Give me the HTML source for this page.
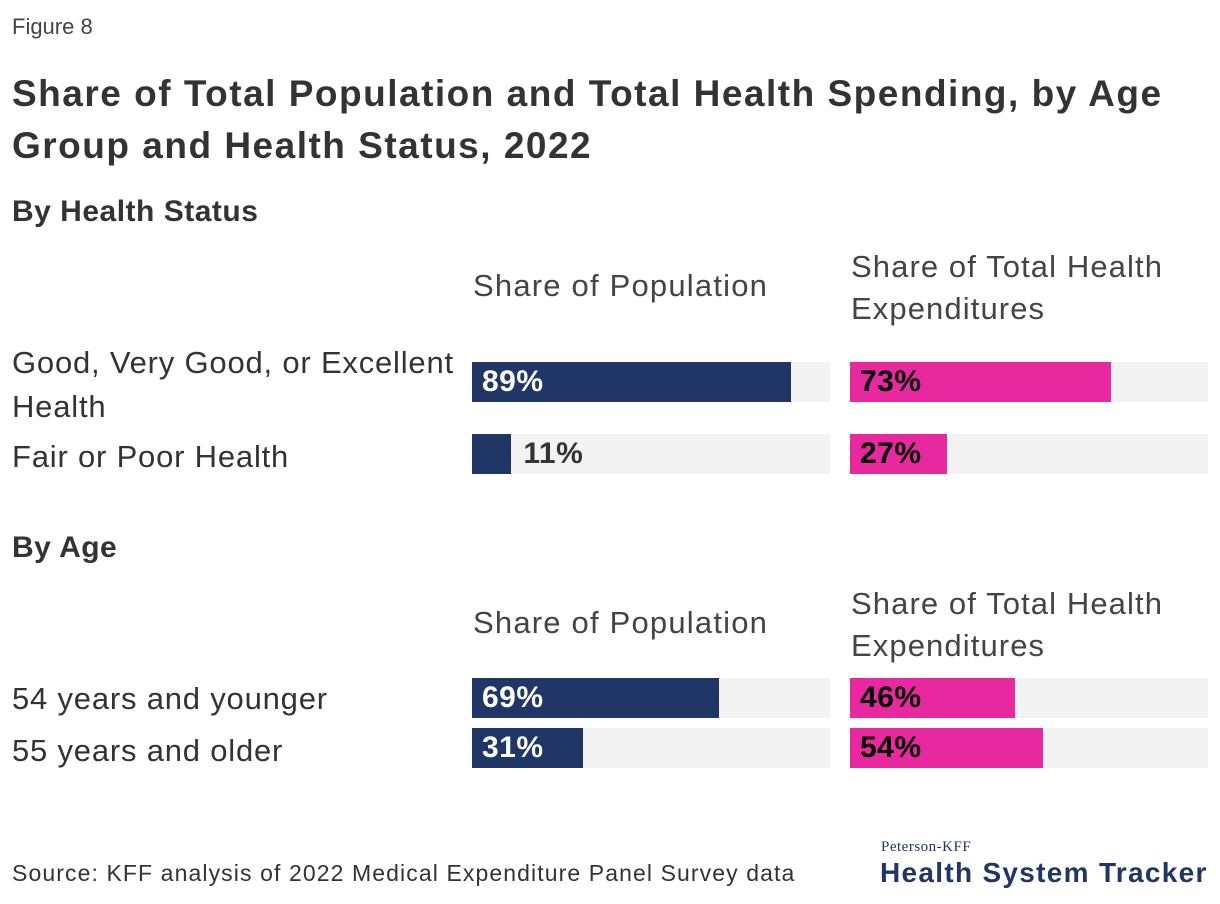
<!DOCTYPE html>
<html><head><meta charset="utf-8"><style>
body{margin:0;width:1220px;height:904px;background:#fff;font-family:"Liberation Sans",sans-serif;color:#333;position:relative;overflow:hidden}
.t{position:absolute;white-space:nowrap}
</style></head><body>
<div class="t" style="left:12px;top:14px;font-size:22px;color:#444">Figure 8</div>
<div class="t" style="left:12px;top:68px;font-size:37px;font-weight:bold;line-height:52px;color:#333;letter-spacing:1.5px">Share of Total Population and Total Health Spending, by Age<br>Group and Health Status, 2022</div>
<div class="t" style="left:12px;top:195px;font-size:30px;font-weight:bold;letter-spacing:0.5px">By Health Status</div>
<div class="t" style="left:12px;top:531px;font-size:30px;font-weight:bold;letter-spacing:0.5px">By Age</div>
<div class="t" style="left:12px;top:860px;font-size:23px;letter-spacing:1.1px">Source: KFF analysis of 2022 Medical Expenditure Panel Survey data</div>
<div class="t" style="left:881px;top:839px;font-size:15px;font-family:'Liberation Serif',serif;color:#1f3666;letter-spacing:0.5px">Peterson-KFF</div>
<div class="t" style="left:880px;top:857px;font-size:28px;font-weight:bold;color:#1f3666;letter-spacing:1.3px">Health System Tracker</div>
<div id="chart"></div>
<script>
const categories=["Good, Very Good, or Excellent Health","Fair or Poor Health","54 years and younger","55 years and older"];
const popValues=[89,11,69,31];
const spendValues=[73,27,46,54];
const headers=["Share of Population","Share of Total Health Expenditures"];
const rowTops=[362,434,678,728];
const labelTops=[341,435,677,729];
const headerTops=[[268,246],[605,583]];
const xPop=v=>v/100*358, trackW=358;
const c=document.getElementById('chart');
function mk(css,txt){const d=document.createElement('div');d.className='t';d.style.cssText=css;if(txt!==undefined)d.textContent=txt;c.appendChild(d);return d;}
headerTops.forEach((h,i)=>{
 const a=mk(`left:473px;top:${h[0]}px;font-size:31px;color:#444;letter-spacing:1.2px`,headers[0]);
 
 
 const b=mk(`left:851px;top:${h[1]}px;font-size:31px;color:#444;line-height:42px;letter-spacing:1.1px`);b.innerHTML="Share of Total Health<br>Expenditures";
 
 
});
categories.forEach((cat,i)=>{
 const y=rowTops[i];
 const l=mk(`left:12px;top:${labelTops[i]}px;font-size:31px;color:#333;line-height:44px;white-space:normal;width:455px;letter-spacing:0.8px`,cat);
 
 
 [[472,popValues[i],'#1f3666','#fff'],[850,spendValues[i],'#e8289f','#000']].forEach(([x0,v,col,tc],j)=>{
  const tr=mk(`left:${x0}px;top:${y}px;width:${trackW}px;height:40px;background:#f3f3f3`);
  
  
  const w=xPop(v);
  const b=mk(`left:${x0}px;top:${y}px;width:${w}px;height:40px;background:${col}`);
  
  
  const inside=w>70;
  const t=mk(`left:${inside?x0+10:x0+w+12}px;top:${y+2}px;font-size:30px;line-height:36px;font-weight:bold;letter-spacing:0.5px;color:${inside?tc:'#333'}`,v+'%');
  
  
 });
});
</script>
</body></html>
